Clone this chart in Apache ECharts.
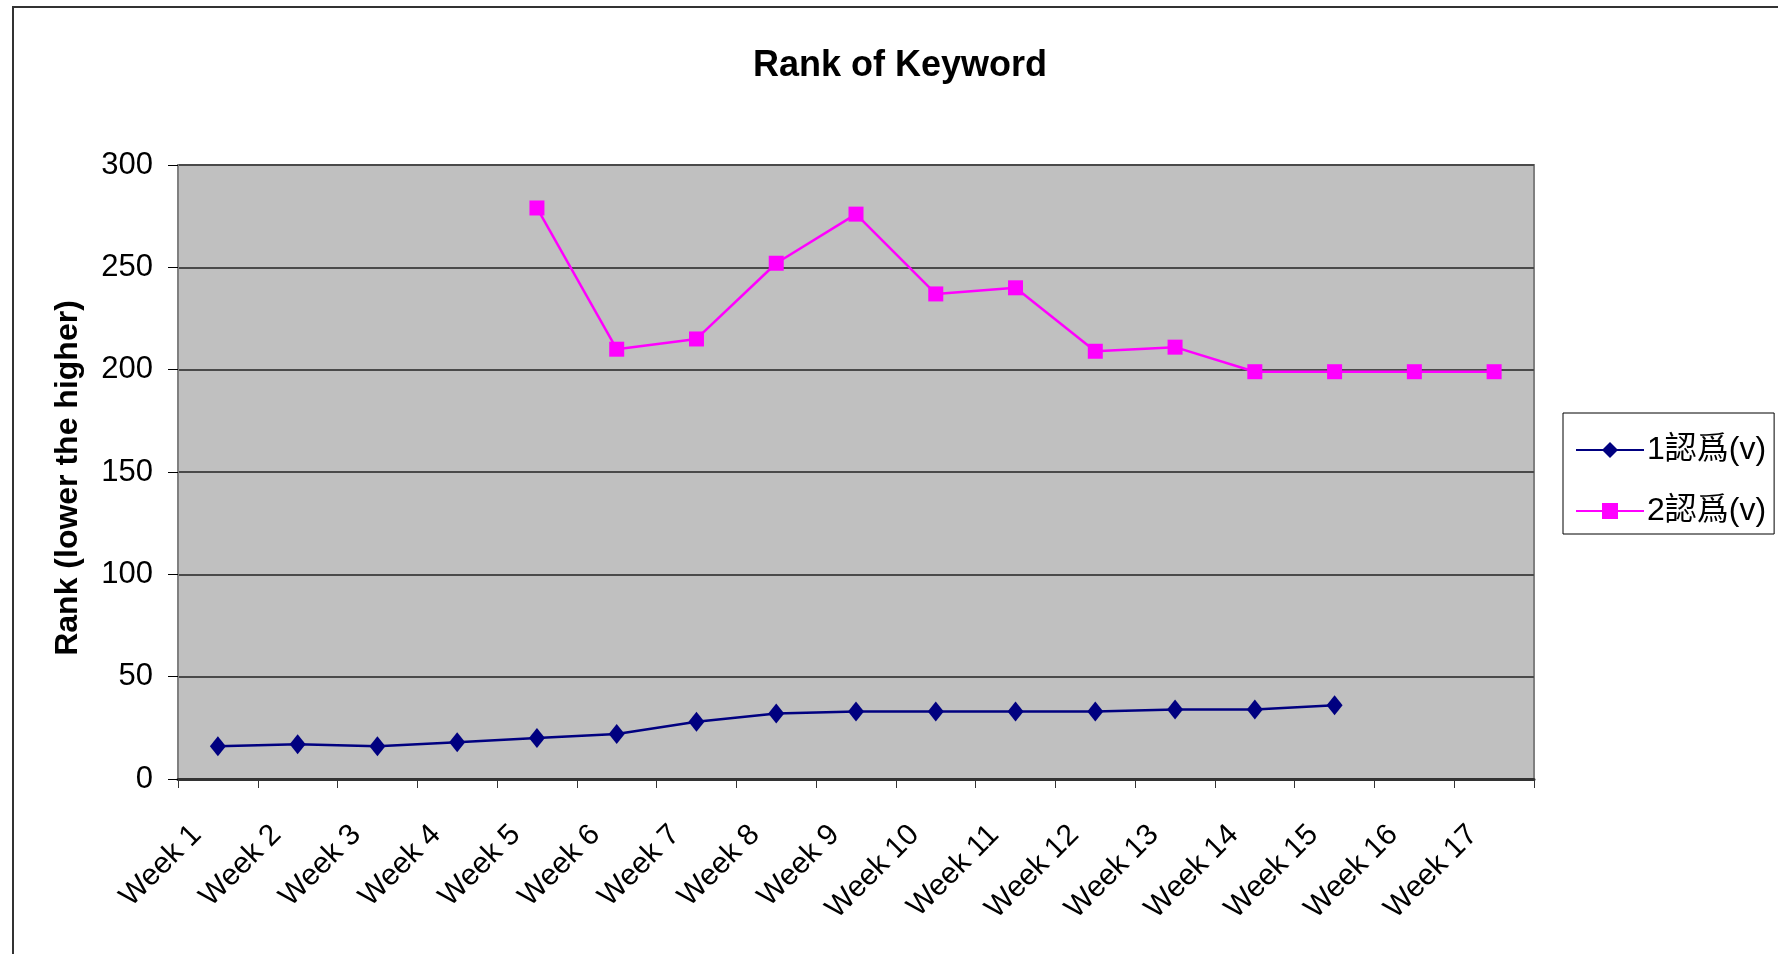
<!DOCTYPE html>
<html>
<head>
<meta charset="utf-8">
<script src="https://cdn.jsdelivr.net/npm/echarts@6/dist/echarts.min.js"></script>
<style>html,body{margin:0;padding:0;background:#fff}#c{width:1778px;height:954px}</style>
</head>
<body>
<div id="c"></div>
<script>
const categories = ['Week 1','Week 2','Week 3','Week 4','Week 5','Week 6','Week 7','Week 8','Week 9','Week 10','Week 11','Week 12','Week 13','Week 14','Week 15','Week 16','Week 17'];
const series1Name = '1認爲(v)';
const series2Name = '2認爲(v)';
const series1 = [16,17,16,18,20,22,28,32,33,33,33,33,34,34,36,null,null];
const series2 = [null,null,null,null,279,210,215,252,276,237,240,209,211,199,199,199,199];
const yTicks = [0,50,100,150,200,250,300];
const yAxisTitle = 'Rank (lower the higher)';

const FONT = '"Liberation Sans", Arial, "Noto Sans CJK TC", sans-serif';
const chart = echarts.init(document.getElementById('c'));
chart.setOption({
  animation: false,
  backgroundColor: '#fff',
  title: {
    text: 'Rank of Keyword',
    left: 895, top: 43, textAlign: 'center',
    textStyle: {fontFamily: FONT, fontSize: 36, fontWeight: 'bold', color: '#000'}
  },
  graphic: [{
    type: 'rect', shape: {x: 13, y: 7, width: 1800, height: 1000},
    style: {fill: 'none', stroke: '#333', lineWidth: 2}, silent: true, z: -1
  }, {
    type: 'text', x: 68, y: 478, rotation: Math.PI / 2,
    style: {text: yAxisTitle, font: 'bold 32px ' + FONT, fill: '#000',
      align: 'center', verticalAlign: 'middle'}, silent: true
  }],
  legend: {
    left: 1563, top: 413, orient: 'vertical',
    backgroundColor: '#fff', borderColor: '#000', borderWidth: 1,
    padding: [21, 8, 7, 12], itemGap: 29,
    itemWidth: 68, itemHeight: 20,
    textStyle: {fontFamily: FONT, fontSize: 32, color: '#000', padding: [0,0,0,-2]},
    data: [series1Name, series2Name]
  },
  grid: {left: 178, top: 165, right: 244, bottom: 175, containLabel: false,
    show: true, backgroundColor: '#C0C0C0', borderColor: '#808080', borderWidth: 2},
  xAxis: {
    type: 'category', data: categories, boundaryGap: true,
    axisLine: {lineStyle: {color: '#333', width: 3}},
    axisTick: {show: true, length: 9, lineStyle: {color: '#333', width: 1}},
    axisLabel: {rotate: 45, margin: 30, fontFamily: FONT, fontSize: 30, color: '#000', interval: 0,
      padding: [0, 30, 0, 0]},
    splitLine: {show: false}
  },
  yAxis: {
    type: 'value', min: 0, max: 300, interval: 50,
    axisLine: {show: true, lineStyle: {color: '#808080', width: 2}},
    axisTick: {show: true, length: 10, lineStyle: {color: '#000', width: 1}},
    axisLabel: {fontFamily: FONT, fontSize: 31, color: '#000', margin: 25,
      formatter: v => yTicks.includes(v) ? String(v) : ''},
    splitLine: {show: true, lineStyle: {color: '#4a4a4a', width: 2}}
  },
  series: [
    {name: series1Name, type: 'line', data: series1, connectNulls: false,
      symbol: 'diamond', symbolSize: [16, 20],
      itemStyle: {color: '#000080'}, lineStyle: {color: '#000080', width: 2.5}},
    {name: series2Name, type: 'line', data: series2, connectNulls: false,
      symbol: 'rect', symbolSize: 15,
      itemStyle: {color: '#FF00FF'}, lineStyle: {color: '#FF00FF', width: 2.5}}
  ]
});
</script>
</body>
</html>
